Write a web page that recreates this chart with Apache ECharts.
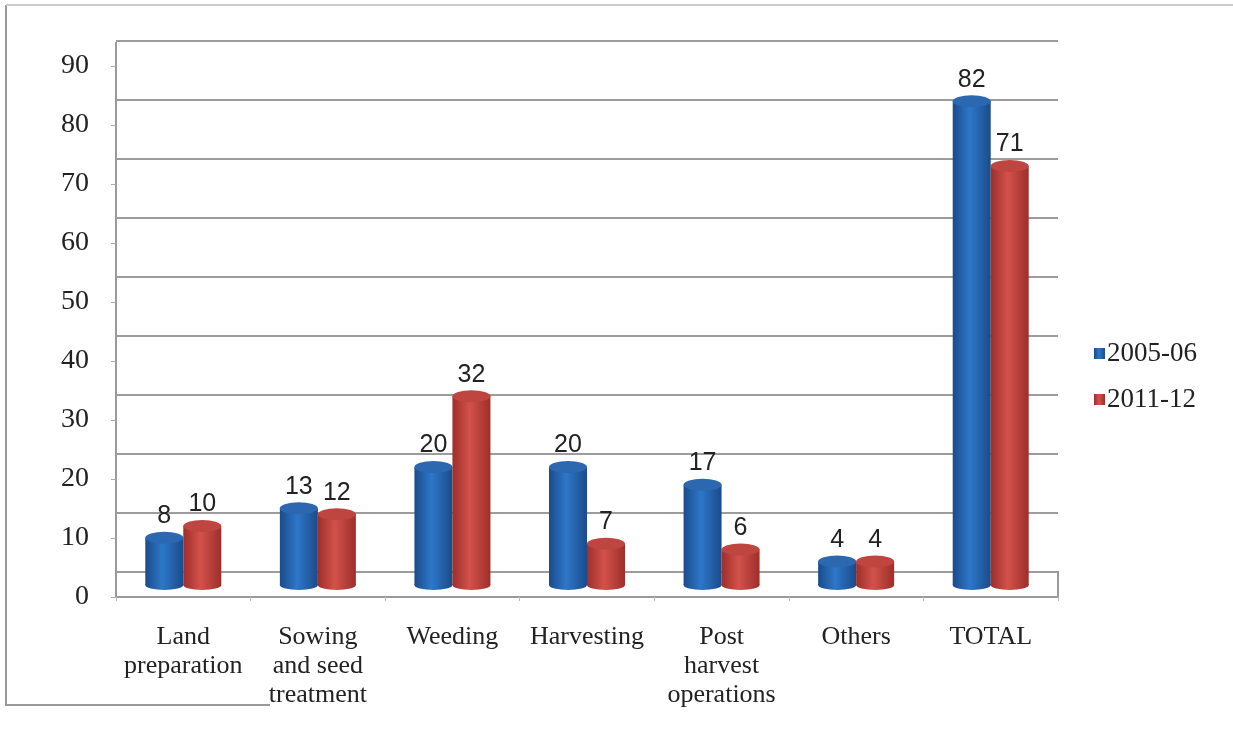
<!DOCTYPE html>
<html>
<head>
<meta charset="utf-8">
<script src="https://cdn.jsdelivr.net/npm/echarts@6/dist/echarts.min.js"></script>
<style>
  html, body { margin: 0; padding: 0; background: #fff; }
  #chart { width: 1233px; height: 736px; }
</style>
</head>
<body>
<div id="chart"></div>
<script>
// categories and values
var categories = ['Land\npreparation', 'Sowing\nand seed\ntreatment', 'Weeding', 'Harvesting', 'Post\nharvest\noperations', 'Others', 'TOTAL'];
var seriesNames = ['2005-06', '2011-12'];
var values0506 = [8, 13, 20, 20, 17, 4, 82];
var values1112 = [10, 12, 32, 7, 6, 4, 71];
var yTicks = [0, 10, 20, 30, 40, 50, 60, 70, 80, 90];

var serif = 'Liberation Serif, Times New Roman, serif';
var sans = 'Liberation Sans, Arial, sans-serif';

function cylinder(dark, light) {
  return new echarts.graphic.LinearGradient(0, 0, 1, 0, [
    { offset: 0, color: dark },
    { offset: 0.45, color: light },
    { offset: 1, color: dark }
  ]);
}
var blueBody = cylinder('#1b4b8a', '#2d77c9');
var redBody = cylinder('#9e2e2a', '#d2524b');

var chart = echarts.init(document.getElementById('chart'));

var option = {
  animation: false,
  color: ['#2a6ebf', '#c8443f'],
  legend: {
    orient: 'vertical',
    left: 1089,
    top: 335,
    itemWidth: 11,
    itemHeight: 11,
    itemGap: 19,
    icon: 'rect',
    data: seriesNames,
    textStyle: { fontFamily: serif, fontSize: 27, color: '#222', padding: [0, 0, 0, -3] }
  },
  grid: [
    // front axis
    { left: 116, right: 175, top: 66, bottom: 139 },
    // back wall
    { left: 116, right: 175, top: 41, bottom: 164 },
    // bars
    { left: 116, right: 175, top: 54, bottom: 151 }
  ],
  xAxis: [
    {
      gridIndex: 0,
      type: 'category',
      data: categories,
      axisLine: { lineStyle: { color: '#9a9a9a', width: 2 } },
      axisTick: { show: true, length: 4, lineStyle: { color: '#bbb' } },
      axisLabel: {
        fontFamily: serif, fontSize: 26, color: '#222', lineHeight: 29, margin: 26, interval: 0
      }
    },
    { gridIndex: 1, type: 'category', data: categories, show: false },
    { gridIndex: 2, type: 'category', data: categories, show: false }
  ],
  yAxis: [
    {
      gridIndex: 0,
      type: 'value',
      min: yTicks[0],
      max: yTicks[yTicks.length - 1],
      interval: 10,
      splitLine: { show: false },
      axisLine: { show: false },
      axisTick: { show: true, length: 5, inside: false, lineStyle: { color: '#aaa' } },
      axisLabel: { fontFamily: serif, fontSize: 28, color: '#222', margin: 27 }
    },
    {
      gridIndex: 1,
      type: 'value',
      min: 0,
      max: 90,
      interval: 10,
      axisLine: { show: false },
      axisTick: { show: false },
      axisLabel: { show: false },
      splitLine: { show: true, lineStyle: { color: '#9c9c9c', width: 2 } }
    },
    { gridIndex: 2, type: 'value', min: 0, max: 90, interval: 10, show: false }
  ],
  graphic: [
    { type: 'line', shape: { x1: 6, y1: 5, x2: 6, y2: 706 }, style: { stroke: '#999', lineWidth: 2 } },
    { type: 'line', shape: { x1: 6, y1: 5, x2: 1233, y2: 5 }, style: { stroke: '#ccc', lineWidth: 2 } },
    { type: 'line', shape: { x1: 6, y1: 705, x2: 270, y2: 705 }, style: { stroke: '#999', lineWidth: 2 } },
    { type: 'line', shape: { x1: 116, y1: 42, x2: 116, y2: 597 }, style: { stroke: '#9a9a9a', lineWidth: 2 } },
    { type: 'line', shape: { x1: 1058, y1: 571, x2: 1058, y2: 597 }, style: { stroke: '#9a9a9a', lineWidth: 2 } }
  ],
  series: [
    {
      name: seriesNames[0],
      type: 'bar',
      xAxisIndex: 2,
      yAxisIndex: 2,
      data: values0506,
      barWidth: 38,
      barGap: '0%',
      z: 3,
      itemStyle: { color: blueBody },
      label: {
        show: true, position: 'top', distance: 9,
        fontFamily: sans, fontSize: 25, color: '#222'
      }
    },
    {
      name: seriesNames[1],
      type: 'bar',
      xAxisIndex: 2,
      yAxisIndex: 2,
      data: values1112,
      barWidth: 38,
      barGap: '0%',
      z: 3,
      itemStyle: { color: redBody },
      label: {
        show: true, position: 'top', distance: 9,
        fontFamily: sans, fontSize: 25, color: '#222'
      }
    },
    // cylinder tops
    {
      type: 'pictorialBar',
      xAxisIndex: 2,
      yAxisIndex: 2,
      symbol: 'circle',
      symbolSize: [38, 12],
      symbolPosition: 'end',
      symbolOffset: ['-50%', '-50%'],
      data: values0506,
      z: 4,
      silent: true,
      itemStyle: { color: '#2c68b0' }
    },
    {
      type: 'pictorialBar',
      xAxisIndex: 2,
      yAxisIndex: 2,
      symbol: 'circle',
      symbolSize: [38, 12],
      symbolPosition: 'end',
      symbolOffset: ['50%', '-50%'],
      data: values1112,
      z: 4,
      silent: true,
      itemStyle: { color: '#bf4540' }
    },
    // cylinder bottoms
    {
      type: 'pictorialBar',
      xAxisIndex: 2,
      yAxisIndex: 2,
      symbol: 'circle',
      symbolSize: [38, 10],
      symbolPosition: 'start',
      symbolOffset: ['-50%', '50%'],
      data: values0506,
      z: 2,
      silent: true,
      itemStyle: { color: blueBody }
    },
    {
      type: 'pictorialBar',
      xAxisIndex: 2,
      yAxisIndex: 2,
      symbol: 'circle',
      symbolSize: [38, 10],
      symbolPosition: 'start',
      symbolOffset: ['50%', '50%'],
      data: values1112,
      z: 2,
      silent: true,
      itemStyle: { color: redBody }
    }
  ]
};

chart.setOption(option);
</script>
</body>
</html>
